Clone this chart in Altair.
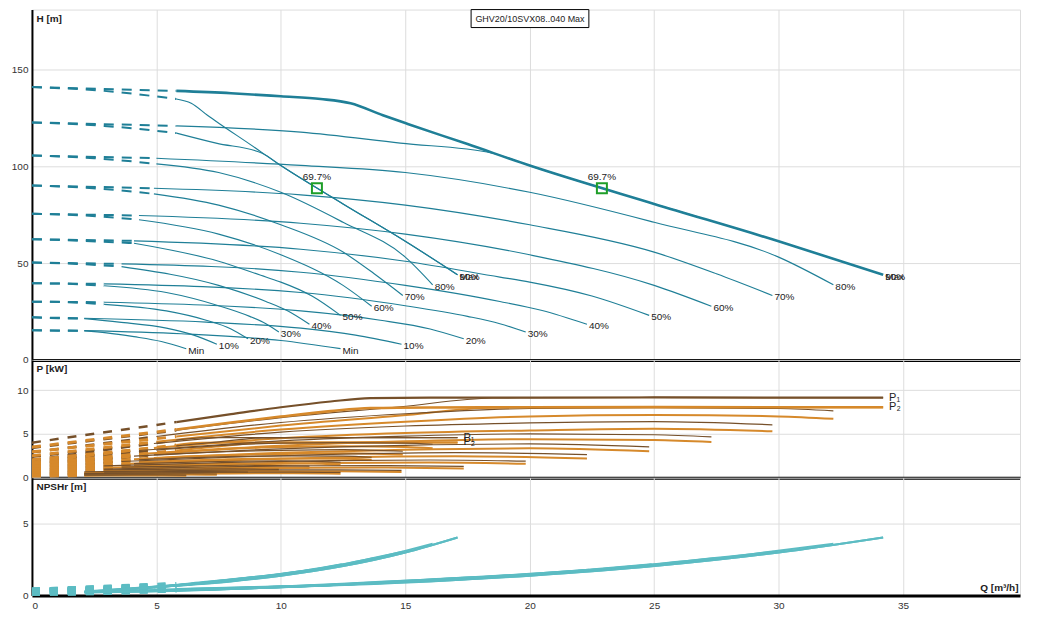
import altair as alt
import pandas as pd

FONT = "Liberation Sans Narrow, Liberation Sans, Arial"
TEAL = "#1f7f97"
NPSH_C = "#5cbcc3"
P1_C = "#76502a"
P2_C = "#d6892b"

LEVELS = ["Max", "90%", "80%", "70%", "60%", "50%", "40%", "30%", "20%", "10%", "Min"]
H_SHUTOFF = [141.0, 122.7, 105.6, 90.1, 75.5, 62.4, 50.3, 39.6, 30.1, 22.0, 15.3]
SINGLE_DASH_MID_Q = [2.9, 2.9, 2.5, 2.45, 2.15, 2.05, 1.8, 1.45, 1.45, 1.05, 1.05]

# ---- H curves, two pumps ----
HD_Q = [
    [5.8, 8, 10, 11.6, 12.8, 14.1, 15.1, 17.5, 20, 25, 30, 34.2],
    [5.8, 10.8, 14.8, 18.5, 20, 25, 30, 34.2],
    [5.0, 10.8, 15, 20, 25, 30, 32.2],
    [4.9, 10.8, 15, 20, 25, 27.5, 29.75],
    [4.3, 10.8, 15, 20, 25, 27.3],
    [4.1, 10.8, 15, 18.8, 20, 22.5, 24.8],
    [3.6, 10.8, 15, 18.8, 20.5, 22.3],
    [2.9, 10.8, 15, 17.5, 18.8, 19.84],
    [2.9, 10.8, 14, 16, 17.35],
    [2.1, 7, 10.8, 13, 14.85],
    [2.1, 6, 10, 12.4],
]
HD_H = [
    [139, 137.8, 136.2, 134.8, 132.6, 126.4, 121.9, 111.5, 100.4, 80.6, 61.3, 44],
    [120.9, 117.7, 112, 106.8, 100.4, 80.6, 61.3, 44],
    [104.2, 100.5, 96.8, 86.6, 71.1, 53.1, 38.8],
    [88.7, 85.3, 80, 69.8, 55.7, 44.5, 33.3],
    [74.6, 70.6, 65, 54.3, 38.5, 27.7],
    [61.5, 57.2, 51, 42.8, 40.2, 33, 23],
    [49.6, 45.3, 38.5, 30.2, 25.5, 18.4],
    [39.3, 34.8, 28, 22.5, 18.7, 14.4],
    [29.8, 25.3, 20.5, 16, 10.9],
    [21.5, 19.5, 16.4, 12.8, 8.1],
    [15.1, 13.5, 10, 5.8],
]
# ---- H curves, one pump ----
HS_Q = [
    [5.8, 6.4, 7.05, 7.55, 8.75, 10, 12.5, 15, 17.1],
    [5.8, 7.4, 9.25, 10, 12.5, 15, 17.1],
    [5.0, 7.5, 10, 12.5, 15, 16.1],
    [4.9, 7.5, 10, 12.5, 13.75, 14.9],
    [4.3, 7.5, 10, 12.5, 13.65],
    [4.1, 7.5, 9.4, 10, 11.25, 12.4],
    [3.6, 7.5, 9.4, 10.25, 11.15],
    [2.9, 5.4, 7.5, 8.75, 9.4, 9.92],
    [2.9, 5.4, 7, 8, 8.68],
    [2.1, 3.5, 5.4, 6.5, 7.43],
    [2.1, 3, 4.1, 5.2, 6.2],
]
HS_H = [
    [134.8, 132.6, 126.4, 121.9, 111.5, 100.4, 80.6, 61.3, 44],
    [117.2, 112, 106.8, 100.4, 80.6, 61.3, 44],
    [101.3, 96.8, 86.6, 71.1, 53.1, 38.8],
    [85.8, 80, 69.8, 55.7, 44.5, 33.3],
    [72.4, 65, 54.3, 38.5, 27.7],
    [60.3, 51, 42.8, 40.2, 33, 23],
    [48.2, 38.5, 30.2, 25.5, 18.4],
    [38.3, 34.8, 28, 22.5, 18.7, 14.4],
    [28.7, 25.3, 20.5, 16, 10.9],
    [21.3, 19.5, 16.4, 12.8, 8.1],
    [15.0, 14.0, 12.0, 9.5, 5.8],
]

# ---- Power curves, two pumps ----
PD_Q = [
    [5.8, 8, 10, 12, 13.6, 16, 20, 25, 30, 34.2],
    [5.8, 10, 14.8, 18.5, 20, 25, 30, 34.2],
    [5.0, 10, 15, 20, 25, 30, 32.2],
    [4.9, 10, 15, 20, 25, 29.75],
    [4.3, 10, 15, 20, 25, 27.3],
    [4.1, 10, 15, 20, 24.8],
    [3.6, 8, 12, 17, 22.3],
    [2.9, 8, 12, 16, 19.84],
    [2.9, 7, 11, 14, 17.35],
    [2.1, 6, 9, 12, 14.85],
    [2.1, 5, 8, 10.5, 12.4],
]
PD_P1 = [
    [6.35, 7.25, 8.04, 8.7, 9.08, 9.14, 9.14, 9.16, 9.15, 9.14],
    [5.4, 6.85, 8.1, 9.1, 9.14, 9.16, 9.15, 9.14],
    [4.7, 6.3, 7.3, 7.9, 8.0, 7.9, 7.63],
    [3.9, 5.2, 5.9, 6.25, 6.4, 6.04],
    [3.1, 4.2, 4.75, 5.0, 4.9, 4.65],
    [2.45, 3.3, 3.7, 3.85, 3.51],
    [1.85, 2.35, 2.65, 2.85, 2.64],
    [1.35, 1.75, 1.95, 2.02, 1.89],
    [0.98, 1.22, 1.36, 1.38, 1.29],
    [0.66, 0.8, 0.88, 0.9, 0.83],
    [0.46, 0.56, 0.62, 0.63, 0.6],
]
PD_P2 = [
    [5.5, 6.3, 6.98, 7.6, 7.95, 8.02, 8.04, 8.06, 8.05, 8.04],
    [4.7, 5.95, 7.1, 8.0, 8.04, 8.06, 8.05, 8.04],
    [4.1, 5.5, 6.4, 7.0, 7.15, 7.0, 6.72],
    [3.4, 4.5, 5.1, 5.4, 5.6, 5.29],
    [2.7, 3.65, 4.15, 4.4, 4.3, 4.08],
    [2.1, 2.85, 3.2, 3.35, 3.02],
    [1.55, 2.0, 2.3, 2.45, 2.19],
    [1.12, 1.48, 1.67, 1.72, 1.59],
    [0.8, 1.0, 1.13, 1.15, 1.06],
    [0.53, 0.65, 0.72, 0.73, 0.66],
    [0.36, 0.44, 0.49, 0.5, 0.46],
]
PD1_AT0 = [4.0, 3.4, 2.9, 2.4, 1.9, 1.5, 1.15, 0.85, 0.6, 0.42, 0.3]
PD2_AT0 = [3.5, 2.95, 2.5, 2.05, 1.6, 1.25, 0.95, 0.7, 0.5, 0.34, 0.24]

# ---- Power curves, one pump ----
PS_Q = [
    [5.8, 6.8, 8, 10, 12.5, 15, 17.1],
    [5.8, 7.4, 9.25, 10, 12.5, 15, 17.1],
    [5.0, 7.5, 10, 12.5, 15, 16.1],
    [4.9, 7.5, 10, 12.5, 14.9],
    [4.3, 7.5, 10, 12.5, 13.65],
    [4.1, 7.5, 10, 12.4],
    [3.6, 6, 8.5, 11.15],
    [2.9, 6, 8, 9.92],
    [2.9, 5.5, 7, 8.68],
    [2.1, 4.5, 6, 7.43],
    [2.1, 4, 5.25, 6.2],
]
PS_P1 = [
    [4.28, 4.54, 4.57, 4.57, 4.58, 4.58, 4.57],
    [3.64, 4.05, 4.55, 4.57, 4.58, 4.58, 4.57],
    [3.15, 3.65, 3.95, 4.0, 3.95, 3.82],
    [2.6, 2.95, 3.12, 3.2, 3.02],
    [2.05, 2.38, 2.5, 2.45, 2.33],
    [1.6, 1.85, 1.92, 1.76],
    [1.2, 1.33, 1.42, 1.32],
    [0.88, 0.98, 1.01, 0.95],
    [0.62, 0.68, 0.69, 0.65],
    [0.41, 0.44, 0.45, 0.42],
    [0.29, 0.31, 0.32, 0.3],
]
PS_P2 = [
    [3.74, 3.98, 4.01, 4.02, 4.03, 4.03, 4.02],
    [3.1, 3.55, 4.0, 4.02, 4.03, 4.03, 4.02],
    [2.75, 3.2, 3.5, 3.58, 3.5, 3.36],
    [2.25, 2.55, 2.7, 2.8, 2.65],
    [1.8, 2.08, 2.2, 2.15, 2.04],
    [1.4, 1.6, 1.68, 1.51],
    [1.0, 1.15, 1.22, 1.1],
    [0.74, 0.83, 0.86, 0.8],
    [0.5, 0.56, 0.57, 0.53],
    [0.33, 0.36, 0.37, 0.33],
    [0.23, 0.25, 0.25, 0.23],
]
PS1_AT0 = [2.0, 1.7, 1.45, 1.2, 0.95, 0.75, 0.58, 0.42, 0.3, 0.21, 0.15]
PS2_AT0 = [1.75, 1.48, 1.25, 1.03, 0.8, 0.63, 0.48, 0.35, 0.25, 0.17, 0.12]

# ---- NPSHr curves ----
NS_Q = [
    [5.8, 8, 10, 12.5, 15, 17.1],
    [5.8, 8, 10, 12.5, 15, 17.1],
    [5.0, 8, 10, 12.5, 14.5, 16.1],
    [4.9, 8, 10, 12.5, 14.9],
    [4.3, 8, 10, 12, 13.7],
    [4.1, 7, 9, 11, 12.45],
    [3.6, 6, 8, 10, 11.2],
    [2.9, 5, 7, 8.5, 10],
    [2.9, 5, 7, 8.7],
    [2.1, 4, 6, 7.5],
    [2.1, 4, 6.2],
]
NS_N = [
    [0.7, 1.0, 1.38, 2.05, 3.0, 4.05],
    [0.68, 0.98, 1.38, 2.05, 3.0, 4.05],
    [0.6, 1.02, 1.42, 2.12, 2.9, 3.62],
    [0.55, 1.05, 1.45, 2.18, 3.05],
    [0.5, 1.07, 1.48, 2.0, 2.6],
    [0.46, 0.9, 1.3, 1.75, 2.18],
    [0.42, 0.75, 1.12, 1.5, 1.8],
    [0.36, 0.62, 0.95, 1.2, 1.45],
    [0.33, 0.58, 0.88, 1.15],
    [0.28, 0.5, 0.75, 0.95],
    [0.25, 0.45, 0.75],
]
ND_Q = [
    [5.8, 11.6, 16, 20, 25, 30, 34.2],
    [5.8, 11.6, 16, 20, 25, 30, 34.2],
    [5.0, 10, 16, 20, 25, 29, 32.2],
    [4.9, 9.8, 16, 20, 25, 29.8],
    [4.3, 8.6, 16, 20, 24, 27.4],
    [4.1, 8.2, 14, 18, 22, 24.9],
    [3.6, 7.2, 12, 16, 20, 22.4],
    [2.9, 5.8, 10, 14, 17, 20],
    [2.9, 5.8, 10, 14, 17.4],
    [2.1, 4.2, 8, 12, 15],
    [2.1, 4.2, 8, 12.4],
]
ND_N = [
    [0.45, 0.7, 1.0, 1.38, 2.05, 3.0, 4.05],
    [0.43, 0.68, 0.98, 1.38, 2.05, 3.0, 4.05],
    [0.4, 0.6, 1.02, 1.42, 2.12, 2.9, 3.62],
    [0.37, 0.55, 1.05, 1.45, 2.18, 3.05],
    [0.34, 0.5, 1.07, 1.48, 2.0, 2.6],
    [0.32, 0.47, 0.9, 1.3, 1.75, 2.18],
    [0.3, 0.42, 0.75, 1.12, 1.5, 1.8],
    [0.27, 0.36, 0.62, 0.95, 1.2, 1.45],
    [0.25, 0.33, 0.58, 0.88, 1.15],
    [0.22, 0.28, 0.5, 0.75, 0.95],
    [0.2, 0.25, 0.45, 0.75],
]
N_AT0 = [0.3, 0.3, 0.29, 0.28, 0.27, 0.26, 0.25, 0.24, 0.23, 0.22, 0.21]

BEP_Q = [11.45, 22.9]
BEP_H = [88.7, 88.7]
BEP_TXT = ["69.7%", "69.7%"]
LEGEND_TEXT = "GHV20/10SVX08..040 Max"
P_LABELS = ["P\u2081", "P\u2082", "P\u2081", "P\u2082"]

Q_TICKS = [0, 5, 10, 15, 20, 25, 30, 35]
H_TICKS = [0, 50, 100, 150]
P_TICKS = [0, 5, 10]
N_TICKS = [0, 5]

W = 990
LAB_FS = 10
TICK_FS = 10


def add(rows, qs, vs, cid):
    for q, v in zip(qs, vs):
        rows.append({"Q": q, "V": v, "cid": cid})


# H frames
h_thin, h_max, h_dash, h_lab = [], [], [], []
for i, lv in enumerate(LEVELS):
    add(h_max if i == 0 else h_thin, HD_Q[i], HD_H[i], f"d{i}")
    add(h_thin, HS_Q[i], HS_H[i], f"s{i}")
    add(h_dash, [0, HD_Q[i][0]], [H_SHUTOFF[i], HD_H[i][0]], f"dd{i}")
    add(h_dash, [0, SINGLE_DASH_MID_Q[i], HS_Q[i][0]],
        [H_SHUTOFF[i], HD_H[i][0], HS_H[i][0]], f"ds{i}")
    h_lab.append({"Q": HD_Q[i][-1], "V": HD_H[i][-1], "t": lv})
    h_lab.append({"Q": HS_Q[i][-1], "V": HS_H[i][-1], "t": lv})
h_thin, h_max, h_dash, h_lab = map(pd.DataFrame, (h_thin, h_max, h_dash, h_lab))

# P frames
p1_sol, p2_sol, p1_dash, p2_dash, p1_max, p2_max = [], [], [], [], [], []
for i in range(len(LEVELS)):
    add(p1_max if i == 0 else p1_sol, PD_Q[i], PD_P1[i], f"d{i}")
    add(p2_max if i == 0 else p2_sol, PD_Q[i], PD_P2[i], f"d{i}")
    add(p1_sol, PS_Q[i], PS_P1[i], f"s{i}")
    add(p2_sol, PS_Q[i], PS_P2[i], f"s{i}")
    add(p1_dash, [0, PD_Q[i][0]], [PD1_AT0[i], PD_P1[i][0]], f"d{i}")
    add(p2_dash, [0, PD_Q[i][0]], [PD2_AT0[i], PD_P2[i][0]], f"d{i}")
    add(p1_dash, [0, PS_Q[i][0]], [PS1_AT0[i], PS_P1[i][0]], f"s{i}")
    add(p2_dash, [0, PS_Q[i][0]], [PS2_AT0[i], PS_P2[i][0]], f"s{i}")
p1_sol, p2_sol, p1_dash, p2_dash, p1_max, p2_max = map(
    pd.DataFrame, (p1_sol, p2_sol, p1_dash, p2_dash, p1_max, p2_max))
p_lab = pd.DataFrame({
    "Q": [PD_Q[0][-1], PD_Q[0][-1], PS_Q[0][-1], PS_Q[0][-1]],
    "V": [PD_P1[0][-1], PD_P2[0][-1], PS_P1[0][-1], PS_P2[0][-1]],
    "t": P_LABELS,
})

# NPSH frames
n_sol, n_dash = [], []
for i in range(len(LEVELS)):
    add(n_sol, ND_Q[i], ND_N[i], f"d{i}")
    add(n_sol, NS_Q[i], NS_N[i], f"s{i}")
    add(n_dash, [0, ND_Q[i][0]], [N_AT0[i], ND_N[i][0]], f"d{i}")
    add(n_dash, [0, NS_Q[i][0]], [N_AT0[i], NS_N[i][0]], f"s{i}")
n_sol, n_dash = map(pd.DataFrame, (n_sol, n_dash))

xscale = alt.Scale(domain=[0, 39.7], nice=False, zero=False)


def x_enc(show):
    if show:
        ax = alt.Axis(values=Q_TICKS, grid=True, ticks=False, domainColor="black",
                      domainWidth=3, labelPadding=5, labelFont=FONT, labelFontSize=TICK_FS,
                      labelColor="#333", title="Q [m\u00b3/h]", titleX=988, titleY=-3,
                      titleAlign="right", titleBaseline="bottom", titleFont=FONT,
                      titleFontSize=10, titleFontWeight="bold", titleColor="#222")
    else:
        ax = alt.Axis(values=Q_TICKS, grid=True, ticks=False, labels=False,
                      domainColor="black", domainWidth=3, title=None,
                      minExtent=0, maxExtent=0)
    return alt.X("Q:Q", scale=xscale, axis=ax)


def y_enc(dom, ticks, title):
    ax = alt.Axis(values=ticks, grid=True, ticks=False, domainColor="black", domainWidth=2,
                  labelPadding=4, minExtent=23, maxExtent=23, labelFont=FONT,
                  labelFontSize=TICK_FS, labelColor="#333", title=title, titleAngle=0,
                  titleX=4, titleY=4, titleAlign="left", titleBaseline="top",
                  titleFont=FONT, titleFontSize=10, titleFontWeight="bold",
                  titleColor="#222")
    return alt.Y("V:Q", scale=alt.Scale(domain=dom, nice=False, zero=False), axis=ax)


# ---------- top panel ----------
XT = x_enc(False)
YH = y_enc([0, 181], H_TICKS, "H [m]")
dashH = alt.Chart(h_dash).mark_line(color=TEAL, strokeWidth=2, strokeDash=[10, 8],
                                    interpolate="monotone", clip=True).encode(
    x=XT, y=YH, detail="cid:N")
thinH = alt.Chart(h_thin).mark_line(color=TEAL, strokeWidth=1.15,
                                    interpolate="monotone", clip=True).encode(
    x=XT, y=YH, detail="cid:N")
maxH = alt.Chart(h_max).mark_line(color=TEAL, strokeWidth=2.6,
                                  interpolate="monotone", clip=True).encode(
    x=XT, y=YH, detail="cid:N")
labH = alt.Chart(h_lab).mark_text(align="left", baseline="middle", dx=2, dy=2,
                                  font=FONT, fontSize=LAB_FS, color="#222").encode(
    x=XT, y=YH, text="t:N")
bep_df = pd.DataFrame({"Q": BEP_Q, "V": BEP_H, "t": BEP_TXT})
bepPt = alt.Chart(bep_df).mark_point(shape="square", size=100, filled=False,
                                     color="#1e9e28", strokeWidth=2, opacity=1).encode(
    x=XT, y=YH)
bepTx = alt.Chart(bep_df).mark_text(baseline="bottom", dy=-6, font=FONT, fontSize=LAB_FS,
                                    color="#222").encode(x=XT, y=YH, text="t:N")
leg_df = pd.DataFrame({"t": [LEGEND_TEXT]})
legBox = alt.Chart(leg_df).mark_rect(fill="white", stroke="black", strokeWidth=1).encode(
    x=alt.value(440), x2=alt.value(558), y=alt.value(0), y2=alt.value(18))
legTx = alt.Chart(leg_df).mark_text(font=FONT, fontSize=9, color="#222",
                                    baseline="middle").encode(
    x=alt.value(499), y=alt.value(9.5), text="t:N")
top = alt.layer(dashH, thinH, maxH, labH, bepPt, bepTx, legBox, legTx).properties(
    width=W, height=351)

# ---------- middle panel ----------
YP = y_enc([0, 13.45], P_TICKS, "P [kW]")
dP1 = alt.Chart(p1_dash).mark_line(color=P1_C, strokeWidth=2.5, strokeDash=[9, 9],
                                   clip=True).encode(x=XT, y=YP, detail="cid:N")
dP2 = alt.Chart(p2_dash).mark_line(color=P2_C, strokeWidth=3, strokeDash=[9, 9],
                                   clip=True).encode(x=XT, y=YP, detail="cid:N")
sP2 = alt.Chart(p2_sol).mark_line(color=P2_C, strokeWidth=2, interpolate="monotone",
                                  clip=True).encode(x=XT, y=YP, detail="cid:N")
sP1 = alt.Chart(p1_sol).mark_line(color=P1_C, strokeWidth=1.2, interpolate="monotone",
                                  clip=True).encode(x=XT, y=YP, detail="cid:N")
mP2 = alt.Chart(p2_max).mark_line(color=P2_C, strokeWidth=2.6, interpolate="monotone",
                                  clip=True).encode(x=XT, y=YP, detail="cid:N")
mP1 = alt.Chart(p1_max).mark_line(color=P1_C, strokeWidth=2.2, interpolate="monotone",
                                  clip=True).encode(x=XT, y=YP, detail="cid:N")
labP = alt.Chart(p_lab).mark_text(align="left", baseline="middle", dx=6, font=FONT,
                                  fontSize=11, color="#222").encode(
    x=XT, y=YP, text="t:N")
mid = alt.layer(dP1, dP2, sP2, sP1, mP2, mP1, labP).properties(width=W, height=118)

# ---------- bottom panel ----------
XB = x_enc(True)
YN = y_enc([0, 8.23], N_TICKS, "NPSHr [m]")
dN = alt.Chart(n_dash).mark_line(color=NPSH_C, strokeWidth=7, strokeDash=[8, 10],
                                 clip=True).encode(x=XB, y=YN, detail="cid:N")
sN = alt.Chart(n_sol).mark_line(color=NPSH_C, strokeWidth=2, interpolate="monotone",
                                clip=True).encode(x=XB, y=YN, detail="cid:N")
bot = alt.layer(dN, sN).properties(width=W, height=118)

chart = alt.vconcat(top, mid, bot, spacing=0, bounds="flush").properties(
    padding={"left": 0, "top": 0, "right": 10, "bottom": 2}
).configure_view(stroke="black", strokeWidth=1).configure_axis(
    gridColor="#d6d6d6", gridWidth=1
).configure(background="white")

chart.save("out.html", embed_options={"renderer": "svg", "actions": False})
